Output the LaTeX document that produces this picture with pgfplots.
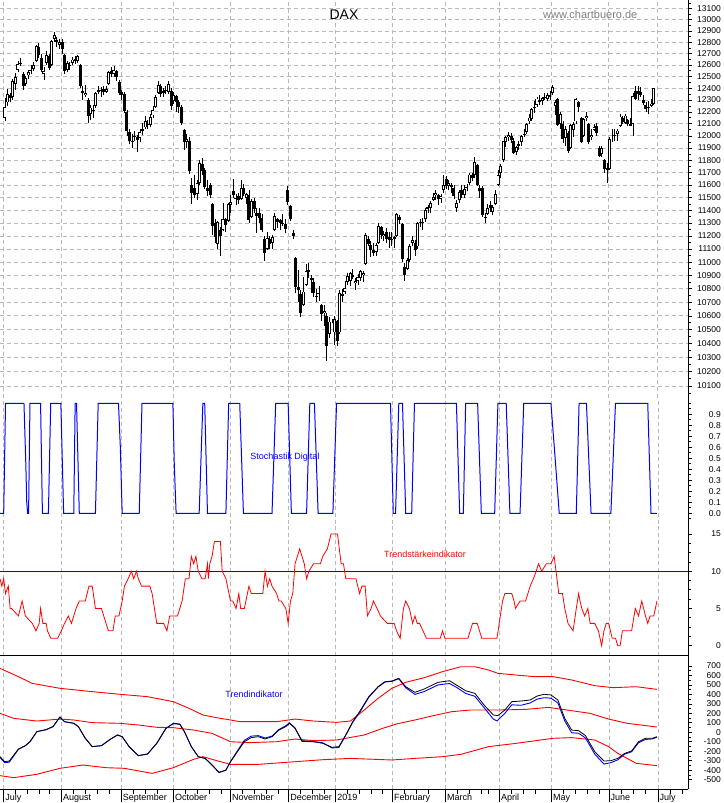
\documentclass[border=0pt]{standalone}
\usepackage{pgfplots}
\pgfplotsset{compat=1.18}
\usepackage{pgfplotstable}
\usepackage{fontspec}
\setmainfont{Liberation Sans}
\definecolor{gridgray}{RGB}{185,185,185}
\definecolor{webgray}{RGB}{125,125,140}
\newcommand\ticksize{\fontsize{8.5}{9}\selectfont}
\newcommand\monthsize{\fontsize{9}{10}\selectfont}

% DAX daily candles: i = trading day index (0 = 2 July 2018)
\pgfplotstableread{
i o h l c
0 12150 12315 12120 12245
1 12280 12390 12250 12349
2 12340 12360 12280 12318
3 12330 12480 12300 12465
4 12440 12530 12390 12496
5 12560 12640 12540 12610
6 12620 12660 12590 12617
7 12520 12540 12390 12418
8 12440 12510 12420 12492
9 12510 12560 12480 12540
10 12550 12600 12520 12561
11 12570 12630 12550 12600
12 12640 12780 12630 12765
13 12760 12790 12660 12686
14 12660 12700 12540 12561
15 12520 12580 12470 12548
16 12620 12720 12600 12689
17 12680 12700 12560 12579
18 12600 12820 12590 12809
19 12830 12890 12800 12860
20 12820 12850 12760 12799
21 12780 12830 12740 12805
22 12800 12830 12700 12737
23 12690 12700 12520 12546
24 12560 12640 12540 12615
25 12600 12630 12560 12598
26 12620 12670 12600 12648
27 12650 12680 12610 12633
28 12640 12690 12620 12676
29 12600 12610 12400 12424
30 12380 12420 12300 12358
31 12340 12430 12330 12358
32 12300 12320 12105 12163
33 12180 12260 12130 12237
34 12220 12260 12150 12210
35 12250 12370 12230 12358
36 12370 12420 12350 12384
37 12380 12410 12330 12385
38 12390 12420 12340 12365
39 12370 12420 12360 12394
40 12440 12550 12430 12538
41 12550 12580 12500 12527
42 12520 12590 12500 12561
43 12550 12560 12460 12494
44 12450 12470 12340 12364
45 12370 12390 12300 12346
46 12350 12370 12190 12210
47 12200 12220 12000 12040
48 12030 12060 11930 11955
49 11960 12020 11900 11959
50 12000 12040 11960 11987
51 11990 12010 11870 11970
52 11980 12060 11950 12032
53 12040 12110 12010 12055
54 12070 12170 12060 12124
55 12100 12130 12060 12096
56 12090 12180 12070 12157
57 12170 12250 12150 12219
58 12240 12340 12230 12326
59 12360 12460 12350 12431
60 12420 12440 12330 12350
61 12360 12400 12330 12374
62 12380 12420 12350 12385
63 12370 12460 12350 12435
64 12380 12400 12220 12247
65 12290 12370 12270 12346
66 12330 12340 12200 12287
67 12280 12300 12190 12244
68 12240 12260 12090 12111
69 12050 12060 11880 11947
70 11950 12020 11900 11977
71 11960 11990 11690 11712
72 11600 11660 11450 11539
73 11580 11680 11500 11524
74 11530 11640 11480 11614
75 11620 11800 11600 11777
76 11770 11820 11680 11715
77 11720 11740 11570 11589
78 11580 11640 11510 11553
79 11600 11620 11500 11524
80 11450 11460 11210 11274
81 11300 11330 11150 11191
82 11140 11320 11100 11307
83 11250 11270 11050 11201
84 11250 11460 11240 11335
85 11330 11340 11230 11287
86 11320 11460 11310 11447
87 11440 11520 11380 11468
88 11550 11650 11500 11519
89 11500 11530 11440 11495
90 11510 11540 11450 11484
91 11490 11640 11480 11579
92 11580 11610 11510 11527
93 11500 11540 11450 11529
94 11520 11560 11300 11325
95 11350 11490 11340 11472
96 11470 11500 11380 11412
97 11380 11420 11220 11353
98 11380 11420 11300 11341
99 11340 11370 11230 11244
100 11180 11200 11010 11066
101 11100 11230 11090 11183
102 11180 11200 11100 11138
103 11150 11210 11100 11192
104 11250 11380 11240 11354
105 11330 11340 11260 11309
106 11320 11330 11250 11299
107 11300 11370 11280 11298
108 11290 11330 11220 11257
109 11560 11590 11440 11465
110 11430 11440 11320 11335
111 11220 11250 11180 11200
112 11030 11040 10770 10811
113 10810 10940 10700 10788
114 10760 10790 10590 10622
115 10680 10890 10670 10780
116 10830 10990 10820 10931
117 10940 10990 10880 10924
118 10880 10900 10770 10865
119 10850 10880 10740 10772
120 10740 10800 10700 10745
121 10760 10820 10710 10766
122 10680 10690 10560 10611
123 10620 10680 10530 10634
124 10600 10620 10279 10382
125 10470 10590 10440 10559
126 10559 10575 10545 10559
127 10480 10600 10390 10580
128 10560 10570 10386 10416
129 10480 10790 10470 10767
130 10760 10800 10700 10747
131 10780 10860 10760 10804
132 10850 10920 10830 10893
133 10860 10930 10820 10921
134 10900 10950 10870 10887
135 10840 10880 10790 10856
136 10860 10910 10830 10891
137 10880 10940 10860 10931
138 10900 10930 10850 10919
139 10990 11220 10980 11205
140 11180 11200 11120 11136
141 11130 11160 11040 11090
142 11090 11150 11050 11071
143 11080 11150 11050 11130
144 11150 11300 11140 11281
145 11270 11280 11180 11210
146 11200 11240 11160 11218
147 11230 11260 11150 11181
148 11190 11230 11110 11173
149 11170 11230 11120 11180
150 11190 11200 11110 11176
151 11200 11380 11190 11368
152 11350 11360 11290 11324
153 11290 11300 11000 11022
154 10960 10990 10860 10906
155 10950 11030 10940 11014
156 11020 11140 11000 11126
157 11150 11200 11120 11167
158 11150 11170 11050 11089
159 11120 11310 11100 11299
160 11300 11330 11270 11309
161 11300 11340 11250 11309
162 11330 11420 11310 11402
163 11410 11440 11380 11423
164 11420 11470 11380 11457
165 11480 11540 11470 11505
166 11520 11560 11480 11540
167 11520 11530 11440 11487
168 11490 11530 11460 11515
169 11560 11680 11540 11602
170 11650 11670 11570 11592
171 11590 11640 11560 11620
172 11600 11620 11540 11588
173 11580 11600 11490 11517
174 11420 11480 11390 11458
175 11480 11560 11460 11543
176 11560 11600 11500 11524
177 11520 11600 11500 11572
178 11580 11610 11550 11587
179 11620 11700 11600 11685
180 11680 11700 11630 11657
181 11680 11823 11660 11788
182 11760 11770 11590 11603
183 11580 11600 11500 11550
184 11580 11590 11350 11364
185 11340 11380 11300 11346
186 11370 11450 11360 11419
187 11440 11470 11390 11419
188 11390 11440 11360 11428
189 11450 11560 11440 11526
190 11600 11720 11590 11682
191 11700 11770 11660 11754
192 11800 11960 11790 11954
193 11950 12000 11910 11988
194 11990 12030 11960 12010
195 12000 12020 11940 11963
196 11960 11980 11850 11860
197 11870 11920 11840 11905
198 11920 11960 11880 11935
199 11950 12010 11920 11999
200 12010 12060 11990 12020
201 12030 12110 12020 12101
202 12120 12180 12100 12153
203 12140 12230 12120 12222
204 12240 12290 12190 12236
205 12260 12330 12240 12313
206 12300 12340 12260 12282
207 12290 12330 12260 12315
208 12330 12360 12300 12328
209 12310 12360 12290 12344
210 12330 12380 12300 12345
211 12360 12430 12340 12412
212 12250 12300 12170 12286
213 12310 12320 12080 12093
214 12100 12200 12060 12180
215 12100 12120 11940 11973
216 11980 12080 11920 12060
217 12020 12040 11860 11877
218 11900 12100 11890 12092
219 12050 12120 11990 12099
220 12120 12320 12100 12310
221 12280 12290 12200 12238
222 12150 12160 11940 11952
223 12000 12150 11990 12143
224 12150 12200 12120 12169
225 12100 12110 11930 11952
226 11990 12060 11970 12011
227 12050 12100 12040 12071
228 12080 12110 12000 12027
229 11900 11920 11830 11837
230 11850 11920 11830 11902
231 11800 11810 11700 11727
232 11740 11780 11620 11720
233 11730 11990 11720 11971
234 11980 12060 11950 11980
235 12000 12060 11960 12009
236 12020 12060 11960 12045
237 12080 12180 12070 12161
238 12150 12170 12100 12116
239 12110 12180 12100 12170
240 12130 12140 12080 12096
241 12100 12150 12080 12086
242 12100 12360 12000 12332
243 12380 12420 12300 12309
244 12380 12420 12300 12355
245 12370 12410 12330 12340
246 12300 12340 12260 12274
247 12260 12280 12200 12228
248 12230 12290 12180 12245
249 12250 12310 12240 12271
250 12270 12400 12260 12399
}\dax

% x in panel units (0..1492.3 across the plot width)
\pgfplotstableread{
x y
0 0
8 0
12 1
52 1
56 0.45
58 0.1
60 0
62 0
65 1
88 1
92 0
105 0
110 1
132 1
138 0
160 0
163 1
166 1
172 0
207 0
213 1
257 1
261 0.6
265 0
302 0
308 1
375 1
378 0.45
382 0
432 0
440 1
444 1
450 0
490 0
496 1
520 1
528 0
590 0
598 1
625 1
632 0
665 0
672 1
682 1
690 0
722 0
730 1
847 1
853 0
858 0
865 1
873 1
880 0
893 0
899 1
990 1
997 0
1005 0
1010 1
1036 1
1044 0
1073 0
1080 1
1098 1
1106 0
1128 0
1136 1
1195 1
1205 0.45
1213 0
1250 0
1256 1
1272 1
1282 0
1325 0
1335 1
1405 1
1412 0
1425 0
}\stoch

\pgfplotstableread{
x y
0 9
4 8
8 9
12 7
18 8
22 5
25 5
40 4
48 6
55 4
70 3
78 2
85 3
88 5
93 3
100 3
103 2
110 1
125 1
133 2
140 3
148 4
155 3
165 5
172 6
185 6
193 8
200 8
207 5
220 5
235 2
245 2
250 4
258 4
265 6
270 8
278 9
285 10
290 9
296 10
300 9
307 8
325 8
330 7
335 5
340 3
355 3
362 2
368 4
375 4
385 4
395 6
402 9
410 9
415 12
420 11
425 12
430 10
438 9
445 9
450 11
452 9
455 11
460 12
465 14
478 14
482 10
490 9
500 6
505 6
512 5
518 7
522 5
530 5
540 8
545 7
570 7
575 10
580 8
585 9
590 8
600 7
605 6
610 6
620 5
625 3
630 6
635 7
640 11
645 12
650 13
655 12
660 11
665 9
670 10
680 11
695 11
700 12
710 13
718 15
732 15
740 11
745 11
750 9
772 9
780 7
785 8
792 8
797 4
805 5
810 6
818 5
825 4
840 3
855 3
860 2
868 1
875 5
880 6
888 5
895 3
900 4
905 3
910 3
925 1
955 1
960 2
965 1
1015 1
1025 3
1035 3
1045 1
1078 1
1090 6
1095 7
1110 7
1115 6
1118 5
1128 6
1140 6
1150 8
1157 9
1163 10
1168 11
1175 10
1185 11
1195 11
1202 12
1206 10
1212 7
1220 7
1225 5
1232 3
1243 2
1250 5
1255 7
1258 6
1262 5
1268 4
1275 5
1280 3
1290 3
1298 2
1305 0
1310 2
1315 3
1320 3
1328 1
1335 1
1340 0
1345 0
1350 2
1370 2
1378 5
1385 4
1392 6
1400 4
1405 3
1410 4
1418 4
1425 6
}\strength

\pgfplotstableread{
x y
0 675
40 587
70 516
130 464
200 429
260 401
320 376
376 323
410 253
440 183
470 154
500 130
520 112
600 112
640 140
680 119
730 105
760 119
790 235
820 358
850 464
880 527
920 576
960 640
1000 692
1030 692
1060 657
1080 622
1120 604
1160 587
1200 587
1240 552
1290 492
1330 471
1380 481
1425 453
}\bandup

\pgfplotstableread{
x y
0 200
30 147
80 119
130 140
160 130
200 102
260 95
300 77
340 53
376 49
420 24
460 -11
500 -99
540 -109
600 -99
640 -71
680 -88
730 -81
790 -28
830 42
860 88
900 130
940 176
980 218
1020 235
1080 235
1140 242
1190 263
1230 235
1280 200
1320 140
1360 95
1425 56
}\bandmid

\pgfplotstableread{
x y
0 -457
30 -478
80 -443
130 -380
180 -345
230 -373
270 -380
330 -433
376 -373
420 -285
440 -257
470 -299
500 -338
560 -338
640 -310
700 -289
760 -275
850 -292
900 -275
960 -257
1000 -232
1060 -151
1120 -116
1200 -63
1240 -56
1290 -81
1320 -151
1340 -222
1380 -327
1425 -352
}\banddown

\pgfplotstableread{
x y
0 -257
10 -310
20 -303
40 -176
55 -141
65 -99
80 7
100 28
115 60
130 162
140 112
160 95
170 60
185 -63
200 -151
220 -141
240 -71
255 -28
265 -46
280 -151
300 -246
320 -229
340 -116
360 42
376 91
390 84
400 7
415 -151
430 -257
445 -275
460 -345
475 -422
490 -398
500 -310
515 -204
530 -99
545 -56
560 -46
575 -71
590 -46
605 24
620 60
628 95
640 42
655 -88
680 -99
700 -116
720 -158
735 -151
750 -28
765 112
780 218
800 376
820 481
835 534
850 541
865 569
880 481
900 422
920 457
950 527
975 544
990 499
1010 439
1030 411
1050 288
1070 183
1080 176
1095 235
1110 323
1130 330
1150 341
1165 383
1180 401
1195 394
1210 341
1225 147
1240 24
1255 17
1270 -35
1290 -204
1310 -303
1325 -299
1340 -275
1355 -222
1370 -197
1385 -99
1400 -63
1415 -63
1425 -46
}\trendblack

\pgfplotstableread{
x y
0 -265
10 -320
20 -315
40 -180
55 -141
65 -99
80 7
100 28
115 60
130 160
140 112
160 95
170 60
185 -63
200 -151
220 -141
240 -71
255 -28
265 -46
280 -151
300 -246
320 -229
340 -116
360 42
376 95
390 88
400 7
415 -151
430 -257
445 -275
460 -345
475 -425
490 -400
500 -310
515 -195
530 -85
545 -40
560 -35
575 -60
590 -40
605 30
620 70
628 100
640 45
655 -95
680 -99
700 -110
720 -165
735 -160
750 -30
765 105
780 210
800 370
820 478
835 530
850 538
865 565
880 470
900 400
920 430
950 500
975 515
990 475
1010 410
1030 380
1050 260
1070 140
1078 120
1095 200
1110 290
1130 285
1150 310
1165 350
1180 365
1195 360
1210 310
1225 120
1240 -5
1255 -10
1270 -60
1290 -230
1310 -335
1325 -320
1340 -290
1355 -230
1370 -205
1385 -110
1400 -75
1415 -70
1425 -50
}\trendblue

\pgfplotsset{
  panel/.style={
    scale only axis, width=688pt,
    axis x line*=bottom, axis y line*=right,
    axis line style={-},
    x axis line style={draw=none},
    y axis line style={black, line width=0.9pt},
    tick align=outside,
    xticklabels={},
    xmajorgrids,
    xtick style={draw=none},
    major grid style={gridgray, line width=0.8pt, dash pattern=on 4pt off 3pt},
    ytick style={black, line width=0.7pt},
    major tick length=4pt, minor tick length=3pt,
    yticklabel style={font=\ticksize, anchor=east, inner sep=0pt, xshift=29pt},
    /pgf/number format/assume math mode=true,
  },
  lowerx/.style={
    xmin=0, xmax=1492.3,
    xtick={8,133,263,376,500,626,728,851,966,1083,1196,1321,1427},
  },
  candle/.style={draw=none, fill=none, mark=none,
    error bars/.cd, y dir=plus, y explicit, error mark=none,
    error bar style={#1}},
}

\begin{document}
\begin{tikzpicture}

% ---------- DAX price panel (logarithmic price scale: y = 1451*ln(P/10100)) ----------
\begin{axis}[panel, at={(0pt,803pt)}, anchor=north west, height=398pt,
  xmin=-1.926, xmax=263.2, ymin=-12, ymax=386,
  xtick={-0.5,21.70,44.78,64.86,86.86,109.25,127.36,149.21,169.64,190.41,210.48,232.68,251.49},
  ymajorgrids,
  ytick={0,14.30,28.46,42.48,56.37,70.12,83.75,97.25,110.62,123.88,137.01,150.02,162.92,175.71,188.38,200.94,213.40,225.75,237.99,250.14,262.18,274.13,285.97,297.72,309.38,320.94,332.41,343.79,355.08,366.29,377.41},
  yticklabels={10100,10200,10300,10400,10500,10600,10700,10800,10900,11000,11100,11200,11300,11400,11500,11600,11700,11800,11900,12000,12100,12200,12300,12400,12500,12600,12700,12800,12900,13000,13100},
  minor ytick={-7.18,7.17,21.40,35.49,49.45,63.27,76.96,90.52,103.96,117.27,130.46,143.53,156.48,169.33,182.06,194.68,207.19,219.59,231.88,244.08,256.18,268.17,280.07,291.86,303.57,315.17,326.69,338.11,349.45,360.70,371.86,382.9},
]
\addplot[candle={draw=black, line width=0.8pt}]
  table[x=i, y expr={1451*ln(\thisrow{l}/10100)}, y error expr={1451*ln(\thisrow{h}/\thisrow{l})}] {\dax};
\addplot[candle={draw=black, line width=3.0pt}]
  table[x=i, y expr={1451*ln(min(\thisrow{o},\thisrow{c})/10100)}, y error expr={1451*abs(ln(\thisrow{c}/\thisrow{o}))}] {\dax};
\addplot[candle={draw=white, line width=1.2pt}]
  table[x=i, y expr={1451*ln(\thisrow{o}/10100)+0.9}, y error expr={max(1451*ln(\thisrow{c}/\thisrow{o})-1.8,0)}] {\dax};
\end{axis}

% ---------- Stochastik Digital ----------
\begin{axis}[panel, lowerx, at={(0pt,405pt)}, anchor=north west, height=126pt,
  ymin=-0.097, ymax=1.048,
  ytick={0,0.1,0.2,0.3,0.4,0.5,0.6,0.7,0.8,0.9},
  minor ytick={-0.05,0.05,0.15,0.25,0.35,0.45,0.55,0.65,0.75,0.85,0.95,1.0,1.05},
  yticklabel style={/pgf/number format/.cd, fixed, fixed zerofill, precision=1},
]
\addplot[blue, line width=1.0pt] table {\stoch};
\end{axis}

% ---------- Trendstaerke ----------
\begin{axis}[panel, lowerx, at={(0pt,279pt)}, anchor=north west, height=132pt,
  ymin=-1.38, ymax=16.34,
  ytick={0,5,10,15}, minor tick num=3,
  x axis line style={draw=black, line width=1pt},
]
\addplot[blue, line width=0.9pt] coordinates {(0,10) (1492.3,10)};
\addplot[red, line width=0.8pt] table {\strength};
\end{axis}

% ---------- Trendindikator ----------
\begin{axis}[panel, lowerx, at={(0pt,147pt)}, anchor=north west, height=133pt,
  ymin=-598, ymax=805,
  ytick={-500,-400,-300,-200,-100,0,100,200,300,400,500,600,700}, minor tick num=1,
]
\addplot[red, line width=0.9pt] table {\bandup};
\addplot[red, line width=0.9pt] table {\bandmid};
\addplot[red, line width=0.9pt] table {\banddown};
\addplot[blue, line width=0.9pt] table {\trendblue};
\addplot[black, line width=0.8pt] table {\trendblack};
\end{axis}

% ---------- bottom time axis ----------
\begin{axis}[scale only axis, width=688pt, height=133pt, at={(0pt,147pt)}, anchor=north west,
  xmin=0, xmax=1492.3, ymin=0, ymax=1,
  axis x line*=bottom, axis y line=none,
  axis line style={-, black, line width=0.9pt},
  tick align=outside,
  xtick={8,133,263,376,500,626,728,851,966,1083,1196,1321,1427},
  xticklabels={July,August,September,October,November,December,2019,February,March,April,May,June,July},
  minor xtick={34,60,86,108,160,186,212,238,290,316,342,402,428,454,480,526,552,578,604,652,678,704,754,780,806,830,877,903,929,992,1018,1044,1060,1109,1135,1161,1222,1248,1274,1300,1347,1373,1399,1453,1479},
  major tick length=13pt, minor tick length=5pt,
  xtick style={black, line width=0.7pt},
  xticklabel style={font=\monthsize, anchor=north west, inner sep=0pt, xshift=1.5pt, yshift=8pt},
]
\addplot[draw=none] coordinates {(0,0.5)};
\end{axis}

% ---------- texts ----------
\node[font=\fontsize{14}{16}\selectfont] at (344pt,788pt) {DAX};
\node[font=\fontsize{11}{13}\selectfont, text=webgray, anchor=west, inner sep=0pt] at (543pt,788pt) {www.chartbuero.de};
\node[font=\fontsize{9}{10}\selectfont, text=blue] at (285pt,346pt) {Stochastik Digital};
\node[font=\fontsize{9}{10}\selectfont, text=red] at (425pt,249pt) {Trendstärkeindikator};
\node[font=\fontsize{9}{10}\selectfont, text=blue] at (254pt,109pt) {Trendindikator};

\pgfresetboundingbox
\useasboundingbox (0pt,0pt) rectangle (723pt,803pt);
\end{tikzpicture}
\end{document}
